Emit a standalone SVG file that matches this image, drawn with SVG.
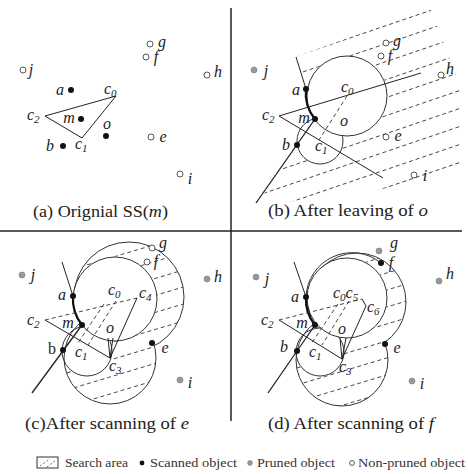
<svg xmlns="http://www.w3.org/2000/svg" width="468" height="474" viewBox="0 0 468 474">
<style>
.ln{stroke:#222;stroke-width:1;fill:none}
.dl{stroke:#333;stroke-width:0.9;fill:none;stroke-dasharray:4 3}
.th{stroke:#111;stroke-width:2.2;fill:none}
.cr{stroke:#333;stroke-width:1;fill:none}
.sc{fill:#111}
.pr{fill:#999;stroke:#777;stroke-width:0.6}
.np{fill:#fff;stroke:#444;stroke-width:0.9}
.lb{font-family:'Liberation Serif','Times New Roman',serif;font-style:italic;font-size:16px;fill:#222}
.rm{font-style:normal}
.sub{font-size:11px}
.cap{font-family:'Liberation Serif','Times New Roman',serif;font-size:17px;fill:#222}
.lg{font-family:'Liberation Serif','Times New Roman',serif;font-size:12px;fill:#333}
.dv{stroke:#222;stroke-width:1.5;fill:none}
</style>
<defs>
<clipPath id="clipB"><polygon points="296,57 430,8 462,90 462,178 330,196 256,206 297,145 315,119 306,89"/></clipPath>
<mask id="maskBh" maskUnits="userSpaceOnUse" x="0" y="0" width="468" height="474"><rect width="468" height="474" fill="#fff"/><circle cx="347" cy="96" r="40.5" fill="#000"/><circle cx="320" cy="141" r="23.5" fill="#000"/></mask>
<mask id="maskB1" maskUnits="userSpaceOnUse" x="0" y="0" width="468" height="474"><rect width="468" height="474" fill="#fff"/><circle cx="347" cy="96" r="39.5" fill="#000"/></mask>
<clipPath id="clipC"><circle cx="129" cy="297" r="55"/><circle cx="110" cy="358" r="46"/></clipPath>
<mask id="maskCh" maskUnits="userSpaceOnUse" x="0" y="0" width="468" height="474"><rect width="468" height="474" fill="#fff"/><circle cx="115" cy="299" r="42.5" fill="#000"/><circle cx="87" cy="351" r="25.5" fill="#000"/></mask>
<mask id="maskC4" maskUnits="userSpaceOnUse" x="0" y="0" width="468" height="474"><rect width="468" height="474" fill="#fff"/><circle cx="115" cy="299" r="41.5" fill="#000"/><circle cx="110" cy="358" r="45.5" fill="#000"/></mask>
<mask id="maskC3" maskUnits="userSpaceOnUse" x="0" y="0" width="468" height="474"><rect width="468" height="474" fill="#fff"/><circle cx="115" cy="299" r="41.5" fill="#000"/><circle cx="129" cy="297" r="54.5" fill="#000"/></mask>
<mask id="maskC1" maskUnits="userSpaceOnUse" x="0" y="0" width="468" height="474"><rect width="468" height="474" fill="#fff"/><circle cx="115" cy="299" r="41.5" fill="#000"/></mask>
<clipPath id="clipD"><circle cx="357" cy="302" r="49"/><circle cx="342" cy="360" r="46"/></clipPath>
<mask id="maskDh" maskUnits="userSpaceOnUse" x="0" y="0" width="468" height="474"><rect width="468" height="474" fill="#fff"/><circle cx="347" cy="298" r="40.5" fill="#000"/><circle cx="320" cy="352" r="24.5" fill="#000"/></mask>
<mask id="maskDo" maskUnits="userSpaceOnUse" x="0" y="0" width="468" height="474"><rect width="468" height="474" fill="#fff"/><circle cx="342" cy="360" r="45.5" fill="#000"/><circle cx="347" cy="298" r="39.5" fill="#000"/></mask>
<mask id="maskD3" maskUnits="userSpaceOnUse" x="0" y="0" width="468" height="474"><rect width="468" height="474" fill="#fff"/><circle cx="357" cy="302" r="48.5" fill="#000"/><circle cx="347" cy="298" r="39.5" fill="#000"/></mask>
<mask id="maskD1" maskUnits="userSpaceOnUse" x="0" y="0" width="468" height="474"><rect width="468" height="474" fill="#fff"/><circle cx="347" cy="298" r="39.5" fill="#000"/></mask>
</defs>

<g id="dividers">
<line class="dv" x1="231" y1="8" x2="231" y2="421"/>
<line class="dv" x1="0" y1="231" x2="462" y2="231"/>
</g>

<!-- Panel (a) -->
<g id="panel-a">
<g id="a-connectors">
<polygon class="ln" points="45,116 116,96 82,138"/>
</g>
<g id="a-g"><circle class="np" cx="150" cy="44" r="3"/><text class="lb" x="162" y="47" text-anchor="middle">g</text></g>
<g id="a-f"><circle class="np" cx="146" cy="57" r="3"/><text class="lb" x="156" y="62" text-anchor="middle">f</text></g>
<g id="a-j"><circle class="np" cx="23" cy="70" r="3"/><text class="lb" x="31" y="75" text-anchor="middle">j</text></g>
<g id="a-h"><circle class="np" cx="207" cy="75" r="3"/><text class="lb" x="218" y="77" text-anchor="middle">h</text></g>
<g id="a-a"><circle class="sc" cx="71" cy="90" r="3"/><text class="lb" x="60" y="95" text-anchor="middle">a</text></g>
<g id="a-c0"><text class="lb" x="104" y="94">c<tspan class="sub" dy="3">0</tspan></text></g>
<g id="a-c2"><text class="lb" x="27" y="120">c<tspan class="sub" dy="3">2</tspan></text></g>
<g id="a-m"><circle class="sc" cx="81" cy="119" r="3"/><text class="lb" x="69" y="123" text-anchor="middle">m</text></g>
<g id="a-o"><circle class="sc" cx="106" cy="136" r="3"/><text class="lb" x="107" y="129" text-anchor="middle">o</text></g>
<g id="a-b"><circle class="sc" cx="63" cy="146" r="3"/><text class="lb" x="50" y="151" text-anchor="middle">b</text></g>
<g id="a-c1"><text class="lb" x="75" y="149">c<tspan class="sub" dy="3">1</tspan></text></g>
<g id="a-e"><circle class="np" cx="151" cy="137" r="3"/><text class="lb" x="163" y="142" text-anchor="middle">e</text></g>
<g id="a-i"><circle class="np" cx="180" cy="174" r="3"/><text class="lb" x="190" y="184" text-anchor="middle">i</text></g>
<text class="cap" x="33" y="217" textLength="135" lengthAdjust="spacingAndGlyphs">(a) Orignial SS(<tspan font-style="italic">m</tspan>)</text>
</g>

<!-- Panel (b) -->
<g id="panel-b">
<g id="b-hatch" clip-path="url(#clipB)"><g mask="url(#maskBh)">
<line class="dl" x1="250" y1="72" x2="470" y2="-3"/>
<line class="dl" x1="250" y1="90" x2="470" y2="15"/>
<line class="dl" x1="250" y1="108" x2="470" y2="33"/>
<line class="dl" x1="250" y1="126" x2="470" y2="51"/>
<line class="dl" x1="250" y1="144" x2="470" y2="69"/>
<line class="dl" x1="250" y1="162" x2="470" y2="87"/>
<line class="dl" x1="250" y1="180" x2="470" y2="105"/>
<line class="dl" x1="250" y1="198" x2="470" y2="123"/>
<line class="dl" x1="250" y1="216" x2="470" y2="141"/>
<line class="dl" x1="250" y1="234" x2="470" y2="159"/>
</g></g>
<g id="b-connectors">
<circle class="cr" cx="347" cy="96" r="40"/>
<circle class="cr" cx="320" cy="141" r="23" mask="url(#maskB1)"/>
<line class="ln" x1="296" y1="57" x2="306" y2="89"/>
<path class="th" d="M306,89 A40,40 0 0 0 315,119"/>
<line class="ln" x1="315" y1="119" x2="256" y2="203" style="stroke-width:1.3"/>
<line class="ln" x1="279" y1="116" x2="421" y2="73"/>
<line class="ln" x1="279" y1="116" x2="383" y2="178"/>
<line class="dl" x1="347" y1="96" x2="319" y2="140"/>
</g>
<g id="b-j"><circle class="pr" cx="254" cy="70" r="3"/><text class="lb" x="266" y="76" text-anchor="middle">j</text></g>
<g id="b-g"><circle class="np" cx="386" cy="43" r="3"/><text class="lb" x="397" y="46" text-anchor="middle">g</text></g>
<g id="b-f"><circle class="np" cx="381" cy="56" r="3"/><text class="lb" x="390" y="61" text-anchor="middle">f</text></g>
<g id="b-h"><circle class="np" cx="441" cy="75" r="3"/><text class="lb" x="450" y="74" text-anchor="middle">h</text></g>
<g id="b-a"><circle class="sc" cx="306" cy="89" r="3"/><text class="lb" x="296" y="95" text-anchor="middle">a</text></g>
<g id="b-c0"><text class="lb" x="341" y="92">c<tspan class="sub" dy="3">0</tspan></text></g>
<g id="b-c2"><text class="lb" x="262" y="120">c<tspan class="sub" dy="3">2</tspan></text></g>
<g id="b-m"><circle class="sc" cx="315" cy="119" r="3"/><text class="lb" x="304" y="123" text-anchor="middle">m</text></g>
<g id="b-o"><text class="lb" x="344" y="126" text-anchor="middle">o</text></g>
<g id="b-b"><circle class="sc" cx="297" cy="145" r="3"/><text class="lb" x="286" y="150" text-anchor="middle">b</text></g>
<g id="b-c1"><text class="lb" x="315" y="151">c<tspan class="sub" dy="3">1</tspan></text></g>
<g id="b-e"><circle class="np" cx="386" cy="137" r="3"/><text class="lb" x="398" y="141" text-anchor="middle">e</text></g>
<g id="b-i"><circle class="np" cx="414" cy="175" r="3"/><text class="lb" x="425" y="181" text-anchor="middle">i</text></g>
<text class="cap" x="268" y="216" textLength="160" lengthAdjust="spacingAndGlyphs">(b) After leaving of <tspan font-style="italic">o</tspan></text>
</g>

<!-- Panel (c) -->
<g id="panel-c">
<g id="c-hatch" clip-path="url(#clipC)"><g mask="url(#maskCh)">
<line class="dl" x1="20" y1="268" x2="200" y2="214"/>
<line class="dl" x1="20" y1="285" x2="200" y2="231"/>
<line class="dl" x1="20" y1="302" x2="200" y2="248"/>
<line class="dl" x1="20" y1="319" x2="200" y2="265"/>
<line class="dl" x1="20" y1="336" x2="200" y2="282"/>
<line class="dl" x1="20" y1="353" x2="200" y2="299"/>
<line class="dl" x1="20" y1="370" x2="200" y2="316"/>
<line class="dl" x1="20" y1="387" x2="200" y2="333"/>
<line class="dl" x1="20" y1="404" x2="200" y2="350"/>
<line class="dl" x1="20" y1="421" x2="200" y2="367"/>
<line class="dl" x1="20" y1="438" x2="200" y2="384"/>
<line class="dl" x1="20" y1="455" x2="200" y2="401"/>
</g></g>
<g id="c-connectors">
<circle class="cr" cx="115" cy="299" r="42"/>
<circle class="cr" cx="129" cy="297" r="55" mask="url(#maskC4)"/>
<circle class="cr" cx="110" cy="358" r="46" mask="url(#maskC3)"/>
<circle class="cr" cx="87" cy="351" r="25" mask="url(#maskC1)"/>
<line class="ln" x1="62" y1="262" x2="73" y2="296"/>
<path class="th" d="M73,296 A42,42 0 0 0 82,325"/>
<line class="ln" x1="82" y1="325" x2="32" y2="393" style="stroke-width:1.3"/>
<line class="dl" x1="45" y1="320" x2="137" y2="298"/>
<line class="ln" x1="137" y1="298" x2="110" y2="358"/>
<line class="ln" x1="45" y1="320" x2="110" y2="358"/>
<line class="dl" x1="116" y1="301" x2="88" y2="345"/>
<line class="dl" x1="104" y1="304" x2="78" y2="343"/>
<polyline class="ln" points="108,338 110,358 113,338"/>
</g>
<g id="c-g"><circle class="np" cx="152" cy="248" r="3"/><text class="lb" x="163" y="248" text-anchor="middle">g</text></g>
<g id="c-f"><circle class="np" cx="147" cy="262" r="3"/><text class="lb" x="156" y="266" text-anchor="middle">f</text></g>
<g id="c-j"><circle class="pr" cx="22" cy="275" r="3"/><text class="lb" x="33" y="280" text-anchor="middle">j</text></g>
<g id="c-h"><circle class="pr" cx="207" cy="279" r="3"/><text class="lb" x="218" y="282" text-anchor="middle">h</text></g>
<g id="c-a"><circle class="sc" cx="73" cy="296" r="3"/><text class="lb" x="62" y="300" text-anchor="middle">a</text></g>
<g id="c-c0"><text class="lb" x="108" y="295">c<tspan class="sub" dy="3">0</tspan></text></g>
<g id="c-c4"><text class="lb" x="139" y="298">c<tspan class="sub" dy="3">4</tspan></text></g>
<g id="c-c2"><text class="lb" x="27" y="325">c<tspan class="sub" dy="3">2</tspan></text></g>
<g id="c-m"><circle class="sc" cx="82" cy="325" r="3"/><text class="lb" x="68" y="328" text-anchor="middle">m</text></g>
<g id="c-o"><text class="lb" x="110" y="333" text-anchor="middle">o</text></g>
<g id="c-b"><circle class="sc" cx="63" cy="350" r="3"/><text class="lb rm" x="52" y="354" text-anchor="middle">b</text></g>
<g id="c-c1"><text class="lb" x="75" y="357">c<tspan class="sub" dy="3">1</tspan></text></g>
<g id="c-c3"><text class="lb" x="109" y="371">c<tspan class="sub" dy="3">3</tspan></text></g>
<g id="c-e"><circle class="sc" cx="152" cy="343" r="3"/><text class="lb" x="165" y="353" text-anchor="middle">e</text></g>
<g id="c-i"><circle class="pr" cx="180" cy="380" r="3"/><text class="lb" x="190" y="388" text-anchor="middle">i</text></g>
<text class="cap" x="25" y="429" textLength="164" lengthAdjust="spacingAndGlyphs">(c)After scanning of <tspan font-style="italic">e</tspan></text>
</g>

<!-- Panel (d) -->
<g id="panel-d">
<g id="d-hatch" clip-path="url(#clipD)"><g mask="url(#maskDh)">
<line class="dl" x1="250" y1="280" x2="430" y2="226"/>
<line class="dl" x1="250" y1="297" x2="430" y2="243"/>
<line class="dl" x1="250" y1="314" x2="430" y2="260"/>
<line class="dl" x1="250" y1="331" x2="430" y2="277"/>
<line class="dl" x1="250" y1="348" x2="430" y2="294"/>
<line class="dl" x1="250" y1="365" x2="430" y2="311"/>
<line class="dl" x1="250" y1="382" x2="430" y2="328"/>
<line class="dl" x1="250" y1="399" x2="430" y2="345"/>
<line class="dl" x1="250" y1="416" x2="430" y2="362"/>
<line class="dl" x1="250" y1="433" x2="430" y2="379"/>
<line class="dl" x1="250" y1="450" x2="430" y2="396"/>
</g></g>
<g id="d-connectors">
<circle class="cr" cx="347" cy="298" r="40"/>
<circle class="cr" cx="357" cy="302" r="49" mask="url(#maskDo)"/>
<circle class="cr" cx="342" cy="360" r="46" mask="url(#maskD3)"/>
<circle class="cr" cx="320" cy="352" r="24" mask="url(#maskD1)"/>
<path class="cr" d="M306,297 A46,46 0 0 1 381,263"/>
<line class="ln" x1="294" y1="262" x2="306" y2="297"/>
<path class="th" d="M306,297 A40,40 0 0 0 315,325"/>
<line class="ln" x1="315" y1="325" x2="268" y2="393" style="stroke-width:1.3"/>
<line class="dl" x1="279" y1="320" x2="362" y2="299"/>
<polyline class="ln" points="362,299 366,306 342,359"/>
<line class="ln" x1="279" y1="320" x2="342" y2="359"/>
<line class="dl" x1="349" y1="301" x2="322" y2="345"/>
<line class="dl" x1="338" y1="304" x2="311" y2="344"/>
<polyline class="ln" points="340,338 342,359 346,338"/>
</g>
<g id="d-g"><circle class="pr" cx="379" cy="251" r="3"/><text class="lb" x="394" y="248" text-anchor="middle">g</text></g>
<g id="d-f"><circle class="sc" cx="381" cy="263" r="3"/><text class="lb" x="391" y="268" text-anchor="middle">f</text></g>
<g id="d-j"><circle class="pr" cx="256" cy="277" r="3"/><text class="lb" x="267" y="284" text-anchor="middle">j</text></g>
<g id="d-h"><circle class="pr" cx="439" cy="281" r="3"/><text class="lb" x="450" y="279" text-anchor="middle">h</text></g>
<g id="d-a"><circle class="sc" cx="306" cy="297" r="3"/><text class="lb" x="295" y="302" text-anchor="middle">a</text></g>
<g id="d-c0c5"><text class="lb" x="333" y="298">c<tspan class="sub" dy="3">0</tspan><tspan dy="-3">c</tspan><tspan class="sub" dy="3">5</tspan></text></g>
<g id="d-c6"><text class="lb" x="367" y="312">c<tspan class="sub" dy="3">6</tspan></text></g>
<g id="d-c2"><text class="lb" x="261" y="325">c<tspan class="sub" dy="3">2</tspan></text></g>
<g id="d-m"><circle class="sc" cx="315" cy="325" r="3"/><text class="lb" x="302" y="328" text-anchor="middle">m</text></g>
<g id="d-o"><text class="lb" x="342" y="334" text-anchor="middle">o</text></g>
<g id="d-b"><circle class="sc" cx="297" cy="351" r="3"/><text class="lb" x="284" y="352" text-anchor="middle">b</text></g>
<g id="d-c1"><text class="lb" x="309" y="357">c<tspan class="sub" dy="3">1</tspan></text></g>
<g id="d-c3"><text class="lb" x="339" y="372">c<tspan class="sub" dy="3">3</tspan></text></g>
<g id="d-e"><circle class="sc" cx="385" cy="344" r="3"/><text class="lb" x="397" y="353" text-anchor="middle">e</text></g>
<g id="d-i"><circle class="pr" cx="412" cy="381" r="3"/><text class="lb" x="422" y="389" text-anchor="middle">i</text></g>
<text class="cap" x="268" y="429" textLength="166" lengthAdjust="spacingAndGlyphs">(d) After scanning of <tspan font-style="italic">f</tspan></text>
</g>

<!-- Legend -->
<g id="legend">
<rect x="37" y="457" width="21" height="11" fill="#fff" stroke="#333" stroke-width="1"/>
<line x1="40" y1="466" x2="50" y2="459" stroke="#444" stroke-width="0.8" stroke-dasharray="2 2"/>
<line x1="47" y1="467" x2="56" y2="460" stroke="#444" stroke-width="0.8" stroke-dasharray="2 2"/>
<text class="lg" x="65" y="467" textLength="63" lengthAdjust="spacingAndGlyphs">Search area</text>
<circle class="sc" cx="142" cy="463" r="2.4"/>
<text class="lg" x="150" y="467" textLength="87" lengthAdjust="spacingAndGlyphs">Scanned object</text>
<circle class="pr" cx="250" cy="463" r="2.4"/>
<text class="lg" x="257" y="467" textLength="78" lengthAdjust="spacingAndGlyphs">Pruned object</text>
<circle class="np" cx="352" cy="463" r="2.4"/>
<text class="lg" x="358" y="467" textLength="107" lengthAdjust="spacingAndGlyphs">Non-pruned object</text>
</g>
</svg>
